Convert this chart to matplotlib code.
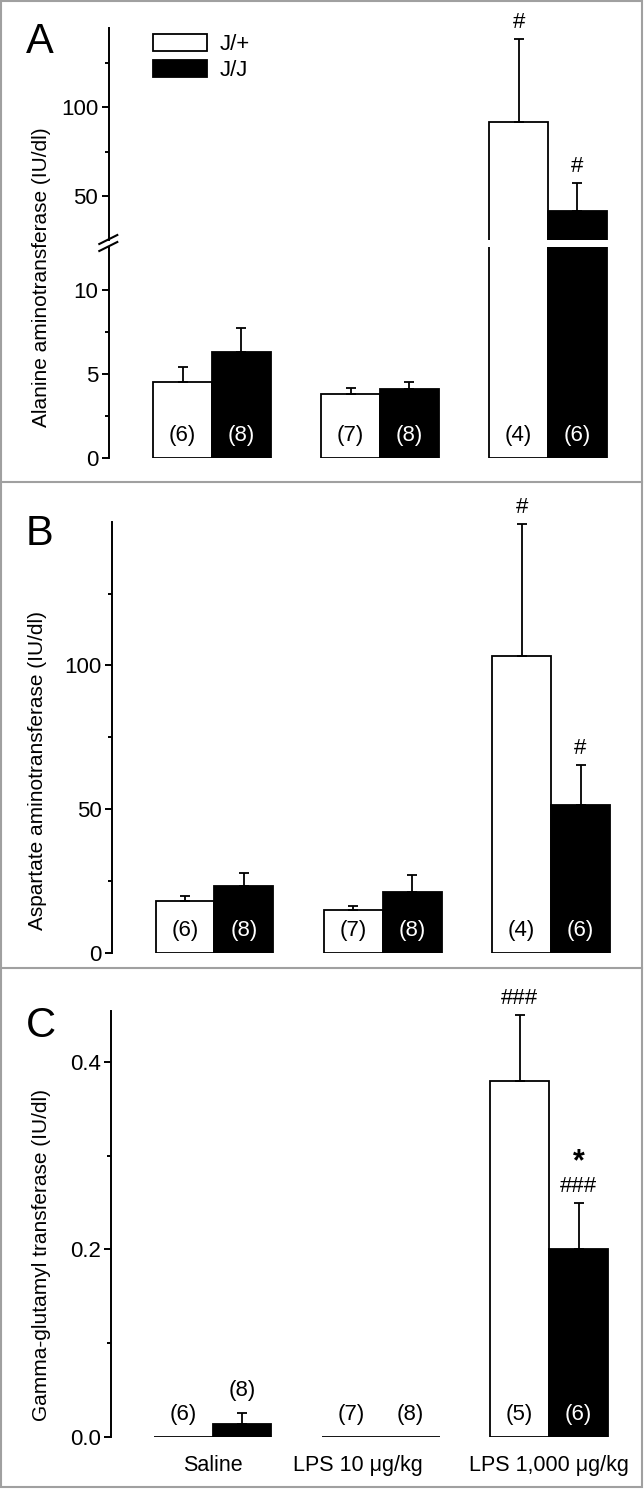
import matplotlib
matplotlib.use("Agg")
import matplotlib.pyplot as plt
from matplotlib.patches import Patch, Rectangle
from matplotlib.lines import Line2D
import matplotlib.transforms as mtransforms
import numpy as np

plt.rcParams['font.family'] = ['Liberation Sans', 'DejaVu Sans']

# ---------------- data ----------------
groups = ["Saline", "LPS 10 \u03bcg/kg", "LPS 1,000 \u03bcg/kg"]
series = ["J/+", "J/J"]

alt_wt = [4.54, 3.79, 91.5]
alt_wt_err = [0.89, 0.39, 47.0]
alt_jj = [6.30, 4.09, 41.5]
alt_jj_err = [1.44, 0.41, 15.8]
alt_n_wt = ["(6)", "(7)", "(4)"]
alt_n_jj = ["(8)", "(8)", "(6)"]
alt_sig_wt = ["", "", "#"]
alt_sig_jj = ["", "", "#"]

ast_wt = [17.9, 14.8, 103.4]
ast_wt_err = [1.9, 1.5, 45.7]
ast_jj = [23.3, 21.0, 51.3]
ast_jj_err = [4.6, 6.2, 13.9]
ast_n_wt = ["(6)", "(7)", "(4)"]
ast_n_jj = ["(8)", "(8)", "(6)"]
ast_sig_wt = ["", "", "#"]
ast_sig_jj = ["", "", "#"]

ggt_wt = [0.0, 0.0, 0.38]
ggt_wt_err = [0.0, 0.0, 0.07]
ggt_jj = [0.0136, 0.0, 0.20]
ggt_jj_err = [0.012, 0.0, 0.05]
ggt_n_wt = ["(6)", "(7)", "(5)"]
ggt_n_jj = ["(8)", "(8)", "(6)"]
ggt_sig_wt = ["", "", "###"]
ggt_sig_jj = ["", "", "###"]
ggt_star_jj = ["", "", "*"]

ylabels = ["Alanine aminotransferase (IU/dl)",
           "Aspartate aminotransferase (IU/dl)",
           "Gamma-glutamyl transferase (IU/dl)"]
panel_letters = ["A", "B", "C"]

# ---------------- layout helpers ----------------
W, H = 644, 1489
fig = plt.figure(figsize=(W / 100, H / 100), dpi=100)

LW = 1.3
FS = 16
BW = 0.35
XR = 2.55


def ax_box(axis_px, c0, sp, top, bottom):
    xl = (axis_px - c0) / sp
    right = c0 + XR * sp
    ax = fig.add_axes([axis_px / W, 1 - bottom / H, (right - axis_px) / W, (bottom - top) / H])
    ax.set_xlim(xl, XR)
    ax.patch.set_alpha(0)
    for s in ["top", "right", "bottom"]:
        ax.spines[s].set_visible(False)
    ax.spines["left"].set_linewidth(1.4)
    ax.tick_params(axis="y", which="major", length=5, width=1.4, pad=2.5, labelsize=FS)
    ax.tick_params(axis="y", which="minor", length=3, width=1.4)
    ax.tick_params(axis="x", length=0)
    ax.set_xticks([])
    return ax


def draw_bars(ax, wt, wt_err, jj, jj_err):
    x = np.arange(len(groups))
    ax.bar(x - BW / 2, wt, BW, facecolor="white", edgecolor="black", linewidth=LW, zorder=2)
    ax.bar(x + BW / 2, jj, BW, facecolor="black", edgecolor="black", linewidth=LW, zorder=2)
    for xs, v, e in [(x - BW / 2, wt, wt_err), (x + BW / 2, jj, jj_err)]:
        v = np.asarray(v, float)
        e = np.asarray(e, float)
        m = e > 0
        ax.errorbar(xs[m], v[m], yerr=[np.zeros(m.sum()), e[m]], fmt="none", ecolor="black",
                    elinewidth=LW, capsize=3.3, capthick=LW, zorder=3)


def bar_px(ax, v):
    return ax.transData.transform((0, v))[1] - ax.transData.transform((0, 0))[1]


def counts(ax, vals, errs, labels, xoff, dark):
    for i, (v, e, t) in enumerate(zip(vals, errs, labels)):
        bp = bar_px(ax, min(v, ax.get_ylim()[1]))
        if bp < 40 and e > 0:
            anchor, color = v + e, "black"
        else:
            anchor = 0
            color = "white" if (dark and bp > 35) else "black"
        ax.annotate(t, (i + xoff, anchor), xytext=(0, 12.3), textcoords="offset points",
                    ha="center", va="baseline", fontsize=FS, color=color, annotation_clip=False)


def sigs(ax, vals, errs, labels, xoff, dy=8, fs=FS, weight="normal"):
    for i, (v, e, t) in enumerate(zip(vals, errs, labels)):
        if t:
            ax.annotate(t, (i + xoff, v + e), xytext=(0, dy), textcoords="offset points",
                        ha="center", va="baseline", fontsize=fs, fontweight=weight,
                        annotation_clip=False)


# ---------------- Panel A (broken axis) ----------------
axA_up = ax_box(108.7, 212, 168, 27.8, 239.9)
axA_lo = ax_box(108.7, 212, 168, 247.4, 458.3)
axA_up.set_ylim(25, 145)
axA_lo.set_ylim(0, 12.5)
for ax in (axA_up, axA_lo):
    draw_bars(ax, alt_wt, alt_wt_err, alt_jj, alt_jj_err)
axA_up.set_yticks([50, 100])
axA_up.set_yticks([75, 125], minor=True)
axA_lo.set_yticks([0, 5, 10])
axA_lo.set_yticks([2.5, 7.5], minor=True)
counts(axA_lo, alt_wt, alt_wt_err, alt_n_wt, -BW / 2, False)
counts(axA_lo, alt_jj, alt_jj_err, alt_n_jj, BW / 2, True)
sigs(axA_up, alt_wt, alt_wt_err, alt_sig_wt, -BW / 2)
sigs(axA_up, alt_jj, alt_jj_err, alt_sig_jj, BW / 2)

# break marks on the y axis
for y0 in (244, 251):
    fig.add_artist(Line2D([99.3 / W, 117.3 / W], [1 - y0 / H, 1 - (y0 - 9) / H],
                          color="black", lw=1.5, transform=fig.transFigure))

# legend
handles = [Patch(facecolor="white", edgecolor="black", linewidth=LW),
           Patch(facecolor="black", edgecolor="black", linewidth=LW)]
fig.legend(handles, series, loc="upper left", bbox_to_anchor=(152.7 / W, 1 - 34.3 / H),
           frameon=False, borderpad=0, borderaxespad=0, handlelength=2.43,
           handleheight=0.78, handletextpad=0.57, labelspacing=0.21, fontsize=FS)

# ---------------- Panel B ----------------
axB = ax_box(112, 214.5, 168.3, 521.7, 952.7)
axB.set_ylim(0, 150)
draw_bars(axB, ast_wt, ast_wt_err, ast_jj, ast_jj_err)
axB.set_yticks([0, 50, 100])
axB.set_yticks([25, 75, 125], minor=True)
counts(axB, ast_wt, ast_wt_err, ast_n_wt, -BW / 2, False)
counts(axB, ast_jj, ast_jj_err, ast_n_jj, BW / 2, True)
sigs(axB, ast_wt, ast_wt_err, ast_sig_wt, -BW / 2)
sigs(axB, ast_jj, ast_jj_err, ast_sig_jj, BW / 2)

# ---------------- Panel C ----------------
axC = ax_box(111, 212.5, 168.3, 1010.7, 1436.7)
axC.set_ylim(0, 0.455)
draw_bars(axC, ggt_wt, ggt_wt_err, ggt_jj, ggt_jj_err)
axC.set_yticks([0.0, 0.2, 0.4])
axC.set_yticklabels(["0.0", "0.2", "0.4"])
axC.set_yticks([0.1, 0.3], minor=True)
counts(axC, ggt_wt, ggt_wt_err, ggt_n_wt, -BW / 2, False)
counts(axC, ggt_jj, ggt_jj_err, ggt_n_jj, BW / 2, True)
sigs(axC, ggt_wt, ggt_wt_err, ggt_sig_wt, -BW / 2)
sigs(axC, ggt_jj, ggt_jj_err, ggt_sig_jj, BW / 2)
sigs(axC, ggt_jj, ggt_jj_err, ggt_star_jj, BW / 2, dy=23, fs=22, weight="bold")
axC.set_xticks(np.arange(len(groups)))
axC.set_xticklabels(groups, fontsize=15.5)
axC.tick_params(axis="x", length=0, pad=13)
lab = axC.get_xticklabels()[1]
lab.set_transform(lab.get_transform() + mtransforms.ScaledTranslation(-0.23, 0, fig.dpi_scale_trans))

# ---------------- y labels, panel letters, borders ----------------
for txt, (xc, yc) in zip(ylabels, [(42, 276.7), (38, 770.5), (41.5, 1255)]):
    fig.text(xc / W, 1 - yc / H, txt, rotation=90, ha="center", va="center", fontsize=15)

for letter, base in zip(panel_letters, [53, 545, 1037]):
    fig.text(26 / W, 1 - base / H, letter, fontsize=30, ha="left", va="baseline")

border_col = "#a0a0a0"
fig.add_artist(Rectangle((1 / W, 1 - 1487 / H), 641 / W, 1486 / H, transform=fig.transFigure,
                         fill=False, edgecolor=border_col, lw=1.5))
for yb in (481.5, 968):
    fig.add_artist(Line2D([1 / W, 642 / W], [1 - yb / H, 1 - yb / H], color=border_col, lw=1.5,
                          transform=fig.transFigure))

fig.savefig("out.png", dpi=100)
